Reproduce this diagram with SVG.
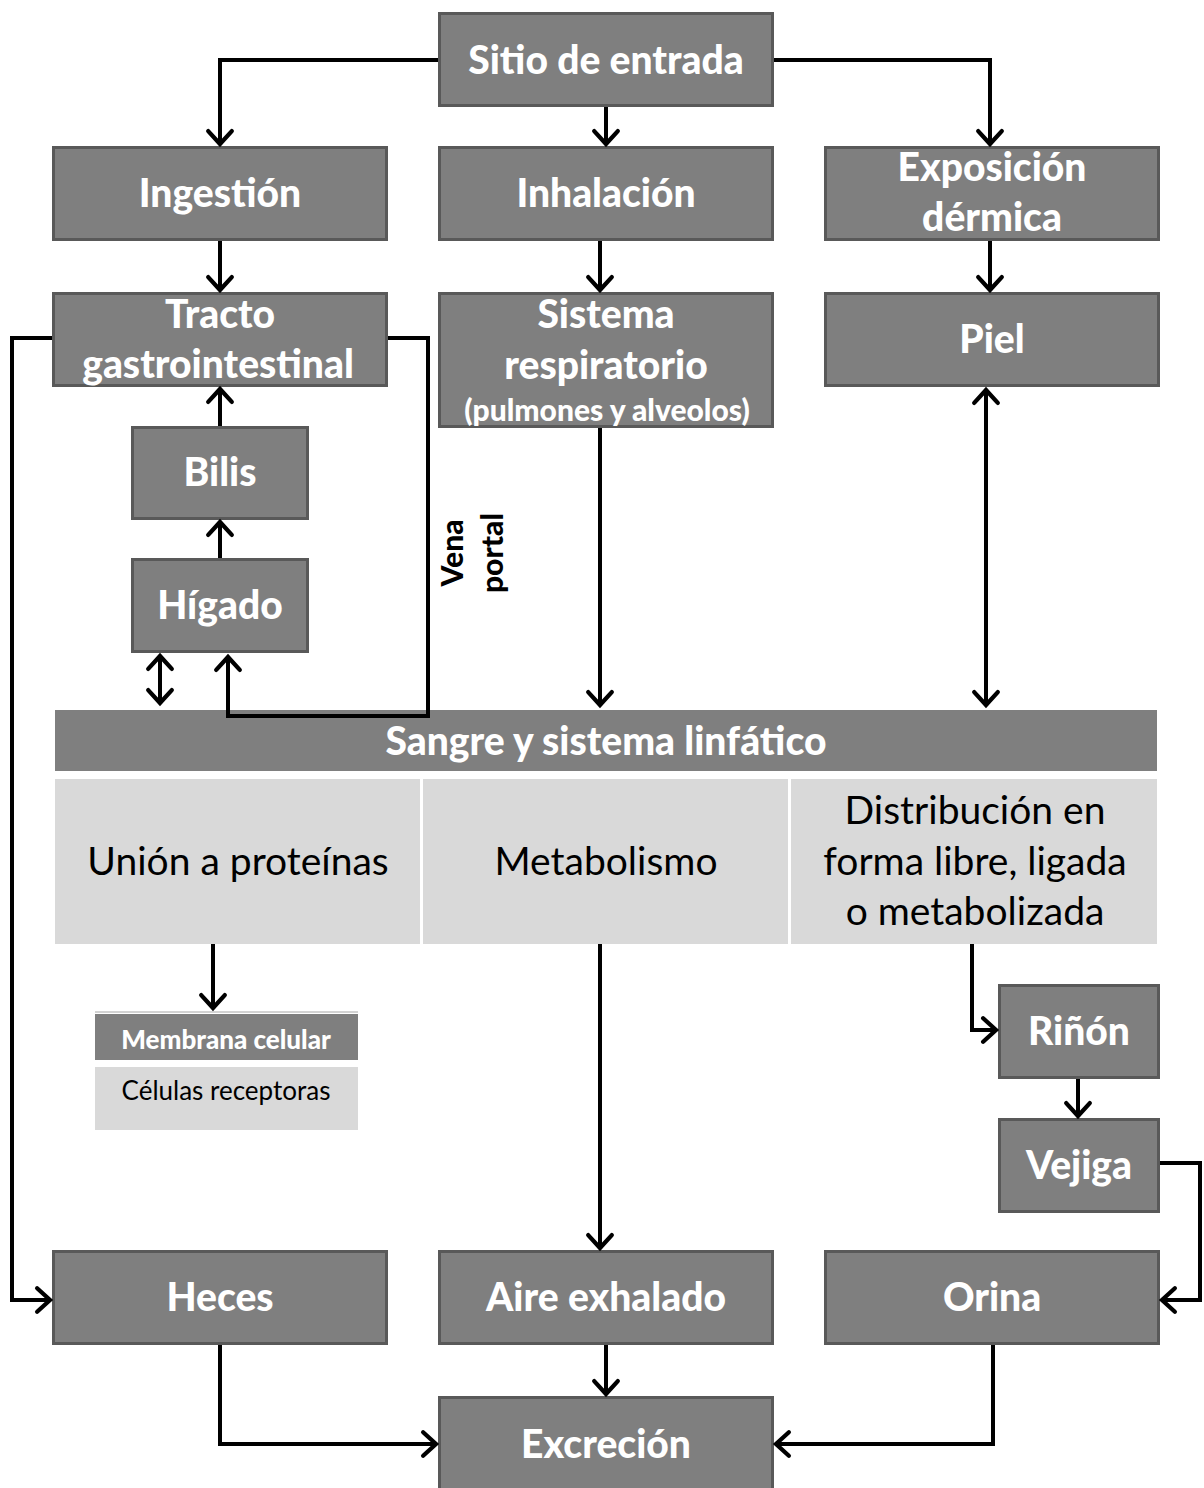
<svg xmlns="http://www.w3.org/2000/svg" width="1204" height="1488" viewBox="0 0 1204 1488">
<defs>
<marker id="arr" markerUnits="userSpaceOnUse" markerWidth="30" markerHeight="30" viewBox="-16 -14 20 28" refX="0" refY="0" orient="auto-start-reverse">
<path d="M-12,-11 L0,0 L-12,11" fill="none" stroke="#000" stroke-width="4" stroke-linecap="round" stroke-linejoin="miter"/>
</marker>
</defs>
<style>
.bg{fill:#ffffff}
.box{fill:#7f7f7f;stroke:#595959;stroke-width:3}
.bar{fill:#7f7f7f}
.lt{fill:#d9d9d9}
.t{font-family:Lato,"Liberation Sans",sans-serif;font-weight:900;font-size:39px;fill:#ffffff;text-anchor:middle}
.ts{font-family:Lato,"Liberation Sans",sans-serif;font-weight:900;font-size:30px;fill:#ffffff;text-anchor:middle}
.tr{font-family:Lato,"Liberation Sans",sans-serif;font-size:39px;fill:#000000;text-anchor:middle}
.sm{font-family:Lato,"Liberation Sans",sans-serif;font-weight:900;font-size:26px;fill:#ffffff;text-anchor:middle}
.smr{font-family:Lato,"Liberation Sans",sans-serif;font-size:26px;fill:#000000;text-anchor:middle}
.lbl{font-family:Lato,"Liberation Sans",sans-serif;font-weight:900;font-size:30px;fill:#000000;text-anchor:middle}
.ca{fill:none;stroke:#000;stroke-width:4;stroke-linejoin:miter;marker-end:url(#arr)}
.cd{fill:none;stroke:#000;stroke-width:4;marker-end:url(#arr);marker-start:url(#arr)}
</style>
<rect class="bg" x="0" y="0" width="1204" height="1488"/>

<g id="n-sitio"><rect class="box" x="439.5" y="13.5" width="333" height="92"/><text class="t" x="606" y="74">Sitio de entrada</text></g>
<g id="n-ingestion"><rect class="box" x="53.5" y="147.5" width="333" height="92"/><text class="t" x="220" y="207">Ingestión</text></g>
<g id="n-inhalacion"><rect class="box" x="439.5" y="147.5" width="333" height="92"/><text class="t" x="606" y="207">Inhalación</text></g>
<g id="n-exposicion"><rect class="box" x="825.5" y="147.5" width="333" height="92"/><text class="t" x="992" y="181">Exposición</text><text class="t" x="992" y="231">dérmica</text></g>
<g id="n-tracto"><rect class="box" x="53.5" y="293.5" width="333" height="92"/><text class="t" x="220" y="328">Tracto</text><text class="t" x="218" y="378">gastrointestinal</text></g>
<g id="n-sistema"><rect class="box" x="439.5" y="293.5" width="333" height="133"/><text class="t" x="606" y="328">Sistema</text><text class="t" x="606" y="379">respiratorio</text><text class="ts" x="607" y="421">(pulmones y alveolos)</text></g>
<g id="n-piel"><rect class="box" x="825.5" y="293.5" width="333" height="92"/><text class="t" x="992" y="353">Piel</text></g>
<g id="n-bilis"><rect class="box" x="132.5" y="427.5" width="175" height="91"/><text class="t" x="220" y="486">Bilis</text></g>
<g id="n-higado"><rect class="box" x="132.5" y="559.5" width="175" height="92"/><text class="t" x="220" y="619">Hígado</text></g>
<g id="n-vena"><text class="lbl" transform="translate(463,553) rotate(-90)">Vena</text><text class="lbl" transform="translate(503,553) rotate(-90)">portal</text></g>

<g id="n-sangre"><rect class="bar" x="55" y="710" width="1102" height="61"/><text class="t" x="606" y="755">Sangre y sistema linfático</text></g>
<g id="n-union"><rect class="lt" x="55" y="779" width="365" height="165"/><text class="tr" x="238" y="875">Unión a proteínas</text></g>
<g id="n-metabolismo"><rect class="lt" x="423" y="779" width="365" height="165"/><text class="tr" x="606" y="875">Metabolismo</text></g>
<g id="n-distribucion"><rect class="lt" x="791" y="779" width="366" height="165"/><text class="tr" x="975" y="824">Distribución en</text><text class="tr" x="975" y="875">forma libre, ligada</text><text class="tr" x="975" y="925">o metabolizada</text></g>

<g id="n-membrana"><line x1="95" y1="1012" x2="358" y2="1012" stroke="#a6a6a6" stroke-width="1"/><rect class="bar" x="95" y="1014" width="263" height="46"/><text class="sm" x="226" y="1049">Membrana celular</text></g>
<g id="n-celulas"><rect class="lt" x="95" y="1067" width="263" height="63"/><text class="smr" x="226" y="1100">Células receptoras</text></g>

<g id="n-rinon"><rect class="box" x="999.5" y="985.5" width="159" height="92"/><text class="t" x="1079" y="1045">Riñón</text></g>
<g id="n-vejiga"><rect class="box" x="999.5" y="1119.5" width="159" height="92"/><text class="t" x="1079" y="1179">Vejiga</text></g>
<g id="n-heces"><rect class="box" x="53.5" y="1251.5" width="333" height="92"/><text class="t" x="220" y="1311">Heces</text></g>
<g id="n-aire"><rect class="box" x="439.5" y="1251.5" width="333" height="92"/><text class="t" x="606" y="1311">Aire exhalado</text></g>
<g id="n-orina"><rect class="box" x="825.5" y="1251.5" width="333" height="92"/><text class="t" x="992" y="1311">Orina</text></g>
<g id="n-excrecion"><rect class="box" x="439.5" y="1397.5" width="333" height="92"/><text class="t" x="606" y="1458">Excreción</text></g>

<g id="connectors">
<path class="ca" d="M438,60 H220 V144"/>
<path class="ca" d="M606,107 V144"/>
<path class="ca" d="M774,60 H990 V144"/>
<path class="ca" d="M220,241 V290"/>
<path class="ca" d="M600,241 V290"/>
<path class="ca" d="M990,241 V290"/>
<path class="ca" d="M52,338 H12 V1300 H50"/>
<path class="ca" d="M388,338 H428 V716 H228 V657"/>
<path class="ca" d="M220,426 V389"/>
<path class="ca" d="M220,558 V522"/>
<path class="cd" d="M160,656 V703"/>
<path class="ca" d="M600,428 V705"/>
<path class="cd" d="M986,390 V705"/>
<path class="ca" d="M213,944 V1008"/>
<path class="ca" d="M600,944 V1248"/>
<path class="ca" d="M972,944 V1030 H996"/>
<path class="ca" d="M1078,1079 V1116"/>
<path class="ca" d="M1160,1163 H1200 V1300 H1162"/>
<path class="ca" d="M606,1345 V1394"/>
<path class="ca" d="M220,1345 V1444 H436"/>
<path class="ca" d="M993,1345 V1444 H776"/>
</g>
</svg>
